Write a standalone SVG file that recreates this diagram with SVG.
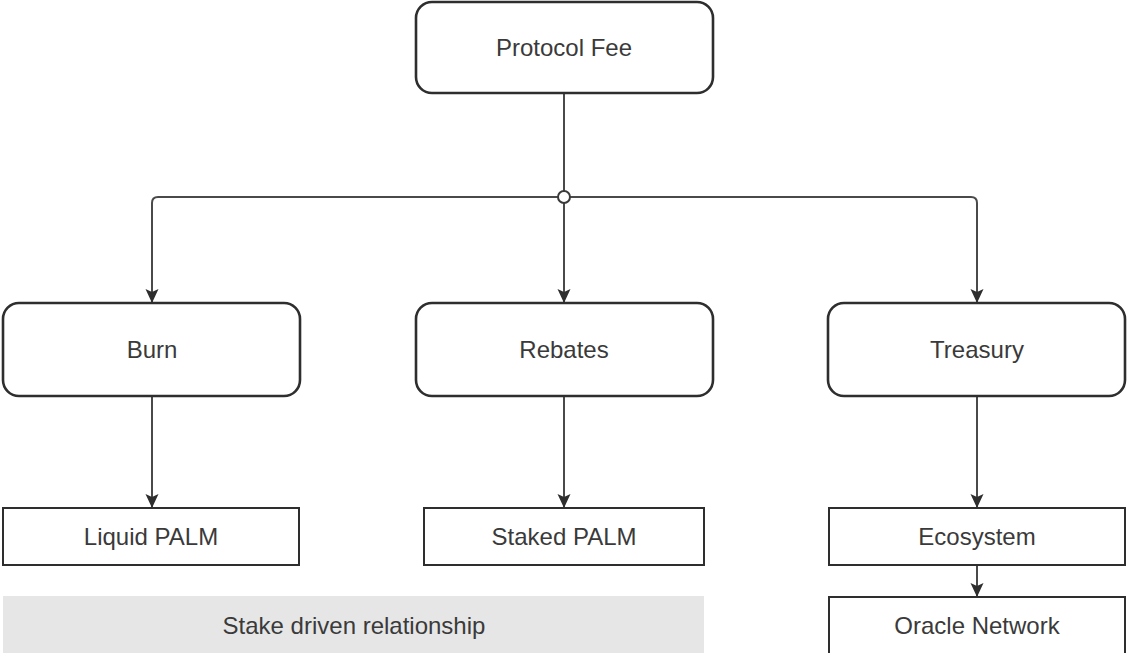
<svg xmlns="http://www.w3.org/2000/svg" width="1127" height="653" viewBox="0 0 1127 653">
<style>
.big{fill:#fff;stroke:#2e2e2e;stroke-width:2.6}
.small{fill:#fff;stroke:#2e2e2e;stroke-width:2}
.lbl{font-family:"Liberation Sans",Arial,sans-serif;font-size:24px;fill:#3a3a3a;text-anchor:middle}
.edge{fill:none;stroke:#4a4a4a;stroke-width:2}
</style>
<defs>
<marker id="arr" viewBox="0 0 14 14" refX="13" refY="7" markerWidth="14" markerHeight="14" markerUnits="userSpaceOnUse" orient="auto">
<path d="M0,0.5 L14,7 L0,13.5 L3,7 Z" fill="#2e2e2e"/>
</marker>
</defs>
<rect width="1127" height="653" fill="#fff"/>
<g id="connectors">
<path class="edge" d="M564,93 V197"/>
<path class="edge" d="M564,197 H158 Q152,197 152,203 V302" marker-end="url(#arr)"/>
<path class="edge" d="M564,197 V302" marker-end="url(#arr)"/>
<path class="edge" d="M564,197 H971 Q977,197 977,203 V302" marker-end="url(#arr)"/>
<path class="edge" d="M152,396 V507" marker-end="url(#arr)"/>
<path class="edge" d="M564,396 V507" marker-end="url(#arr)"/>
<path class="edge" d="M977,396 V507" marker-end="url(#arr)"/>
<path class="edge" d="M977,565 V596" marker-end="url(#arr)"/>
<circle cx="564" cy="197" r="6" fill="#fff" stroke="#3a3a3a" stroke-width="2"/>
</g>
<g id="protocol-fee">
<rect class="big" x="416" y="2" width="297" height="91" rx="16"/>
<text class="lbl" x="564" y="56">Protocol Fee</text>
</g>
<g id="burn">
<rect class="big" x="3" y="303" width="297" height="93" rx="16"/>
<text class="lbl" x="152" y="358">Burn</text>
</g>
<g id="rebates">
<rect class="big" x="416" y="303" width="297" height="93" rx="16"/>
<text class="lbl" x="564" y="358">Rebates</text>
</g>
<g id="treasury">
<rect class="big" x="828" y="303" width="297" height="93" rx="16"/>
<text class="lbl" x="977" y="358">Treasury</text>
</g>
<g id="liquid-palm">
<rect class="small" x="3" y="508" width="296" height="57"/>
<text class="lbl" x="151" y="545">Liquid PALM</text>
</g>
<g id="staked-palm">
<rect class="small" x="424" y="508" width="280" height="57"/>
<text class="lbl" x="564" y="545">Staked PALM</text>
</g>
<g id="ecosystem">
<rect class="small" x="829" y="508" width="296" height="57"/>
<text class="lbl" x="977" y="545">Ecosystem</text>
</g>
<g id="oracle-network">
<rect class="small" x="829" y="597" width="296" height="70"/>
<text class="lbl" x="977" y="634">Oracle Network</text>
</g>
<g id="stake-driven">
<rect x="3" y="596" width="701" height="70" fill="#e6e6e6"/>
<text class="lbl" x="354" y="634">Stake driven relationship</text>
</g>
</svg>
